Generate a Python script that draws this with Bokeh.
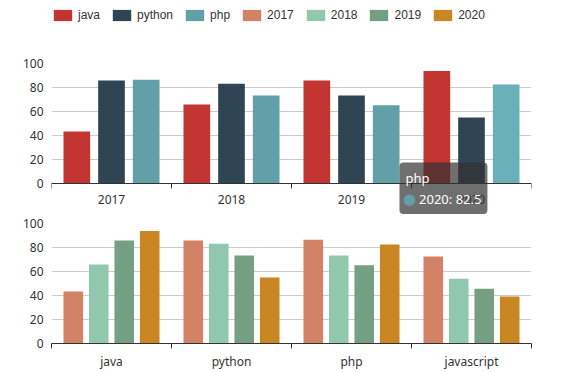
import numpy as np
from bokeh.plotting import figure
from bokeh.models import (Range1d, FixedTicker, Legend, LegendItem, Label,
                          ColumnDataSource)
from bokeh.layouts import column
from bokeh.embed import file_html
from bokeh.resources import INLINE

# ---------------- data ----------------
years = ["2017", "2018", "2019", "2020"]
langs = ["java", "python", "php", "javascript"]
java = [43.3, 65.8, 85.8, 93.7]
python = [85.8, 83.1, 73.4, 55.1]
php = [86.4, 73.3, 65.2, 82.5]
javascript = [72.4, 53.9, 45.6, 39.1]
y_ticks = [0, 20, 40, 60, 80, 100]

lang_colors = ["#c23531", "#2f4554", "#61a0a8"]
year_colors = ["#d48265", "#91c7ae", "#749f83", "#ca8622"]
highlight_color = "#6ab0b8"   # hovered bar (php, 2020)

FONT = "Noto Sans"
LEG_FONT = "Liberation Sans"
TXT = "#333333"
NB = "\u00a0"


def style_axes(p, cats, above=False):
    n = len(cats)
    p.outline_line_color = None
    p.xgrid.visible = False
    p.ygrid.ticker = FixedTicker(ticks=y_ticks)
    p.ygrid.grid_line_color = "#cccccc"

    ax = p.xaxis[0]
    ax.ticker = FixedTicker(ticks=[i + 0.5 for i in range(n)],
                            minor_ticks=list(range(n + 1)))
    ax.major_label_overrides = {i + 0.5: c for i, c in enumerate(cats)}
    ax.major_tick_line_color = None
    ax.major_tick_out = 0
    ax.major_tick_in = 0
    ax.minor_tick_line_color = "#333333"
    ax.axis_line_color = "#333333"
    ax.major_label_text_font = FONT
    ax.major_label_text_font_size = "12px"
    ax.major_label_text_color = TXT
    if above:
        # axis drawn at y = 0 inside the (taller) frame, labels below it
        ax.fixed_location = 0
        ax.minor_tick_in = 5
        ax.minor_tick_out = 0
        ax.major_label_standoff = -20
    else:
        ax.minor_tick_in = 0
        ax.minor_tick_out = 5
        ax.major_label_standoff = 4

    ay = p.yaxis[0]
    ay.ticker = FixedTicker(ticks=y_ticks)
    ay.axis_line_color = None
    ay.major_tick_line_color = None
    ay.minor_tick_line_color = None
    ay.major_tick_out = 0
    ay.major_tick_in = 0
    ay.major_label_standoff = 8
    ay.major_label_text_font = FONT
    ay.major_label_text_font_size = "12px"
    ay.major_label_text_color = TXT


def bar_layout(n_series):
    # echarts: barCategoryGap 20%, barGap 30%
    w = 0.8 / (n_series + 0.3 * (n_series - 1))
    step = 1.3 * w
    offs = [(k - (n_series - 1) / 2) * step for k in range(n_series)]
    return w, offs


# ---------------- legend strip ----------------
leg = figure(width=577, height=30, output_backend="svg",
             toolbar_location=None, x_axis_type=None, y_axis_type=None,
             x_range=Range1d(0, 1), y_range=Range1d(0, 1),
             min_border_left=51, min_border_right=0,
             min_border_top=8, min_border_bottom=0)
leg.outline_line_color = None
leg.grid.visible = False

# ---------------- top chart: x = years, series = languages ----------------
top = figure(width=577, height=186, output_backend="svg",
             toolbar_location=None, x_range=Range1d(0, len(years)),
             y_range=Range1d(-27.5, 100), x_axis_location="above",
             min_border_left=51, min_border_right=46,
             min_border_top=33, min_border_bottom=0)
style_axes(top, years, above=True)
top_series = [java, python, php]
w, offs = bar_layout(len(top_series))
proxies = {}
for k, (name, vals) in enumerate(zip(langs[:3], top_series)):
    cols = [lang_colors[k]] * len(years)
    if name == "php":
        cols[3] = highlight_color
    src = ColumnDataSource(dict(x=np.arange(len(years)) + 0.5 + offs[k],
                                top=vals, color=cols))
    top.vbar(x="x", top="top", width=w, bottom=0, source=src,
             fill_color="color", line_color=None)
    # legend proxy (lies outside the strip's ranges)
    proxies[name] = leg.vbar(x=[-5], top=[-5], bottom=-6, width=0.1,
                             fill_color=lang_colors[k], line_color=None)

# ---------------- bottom chart: x = languages, series = years -------------
bot = figure(width=577, height=156, output_backend="svg",
             toolbar_location=None, x_range=Range1d(0, len(langs)),
             y_range=Range1d(0, 100), min_border_left=51,
             min_border_right=46, min_border_top=7, min_border_bottom=29)
style_axes(bot, langs)
by_lang = [java, python, php, javascript]
w2, offs2 = bar_layout(len(years))
for k, yr in enumerate(years):
    vals = [row[k] for row in by_lang]
    src = ColumnDataSource(dict(x=np.arange(len(langs)) + 0.5 + offs2[k],
                                top=vals))
    bot.vbar(x="x", top="top", width=w2, bottom=0, source=src,
             fill_color=year_colors[k], line_color=None)
    proxies[yr] = leg.vbar(x=[-5], top=[-5], bottom=-6, width=0.1,
                           fill_color=year_colors[k], line_color=None)

items = [LegendItem(label=nm, renderers=[proxies[nm]])
         for nm in langs[:3] + years]
legend = Legend(items=items, orientation="horizontal", location="top_left",
                glyph_width=23, glyph_height=14, label_height=14,
                label_standoff=4, spacing=10, padding=0, margin=0,
                border_line_color=None, background_fill_alpha=0,
                label_text_font=LEG_FONT, label_text_font_size="12px",
                label_text_color=TXT)
leg.add_layout(legend, "center")

# ---------------- tooltip (hover state of php / 2020) ---------------------
tip = Label(x=2.9, y=17.5, text="php\n" + NB * 4 + "2020: 82.5",
            anchor="top_left", text_font=FONT, text_font_size="13px",
            text_color="white", text_line_height=1.19, padding=6,
            border_radius=4, background_fill_color="#323232",
            background_fill_alpha=0.7)
top.add_layout(tip)
dot = Label(x=2.983, y=-13.3, text="●",
            text_font="DejaVu Sans", text_font_size="15px",
            text_color=lang_colors[2], text_align="center",
            text_baseline="middle")
top.add_layout(dot)

layout = column(leg, top, bot, spacing=0)
open("out.html", "w").write(file_html(layout, INLINE))
